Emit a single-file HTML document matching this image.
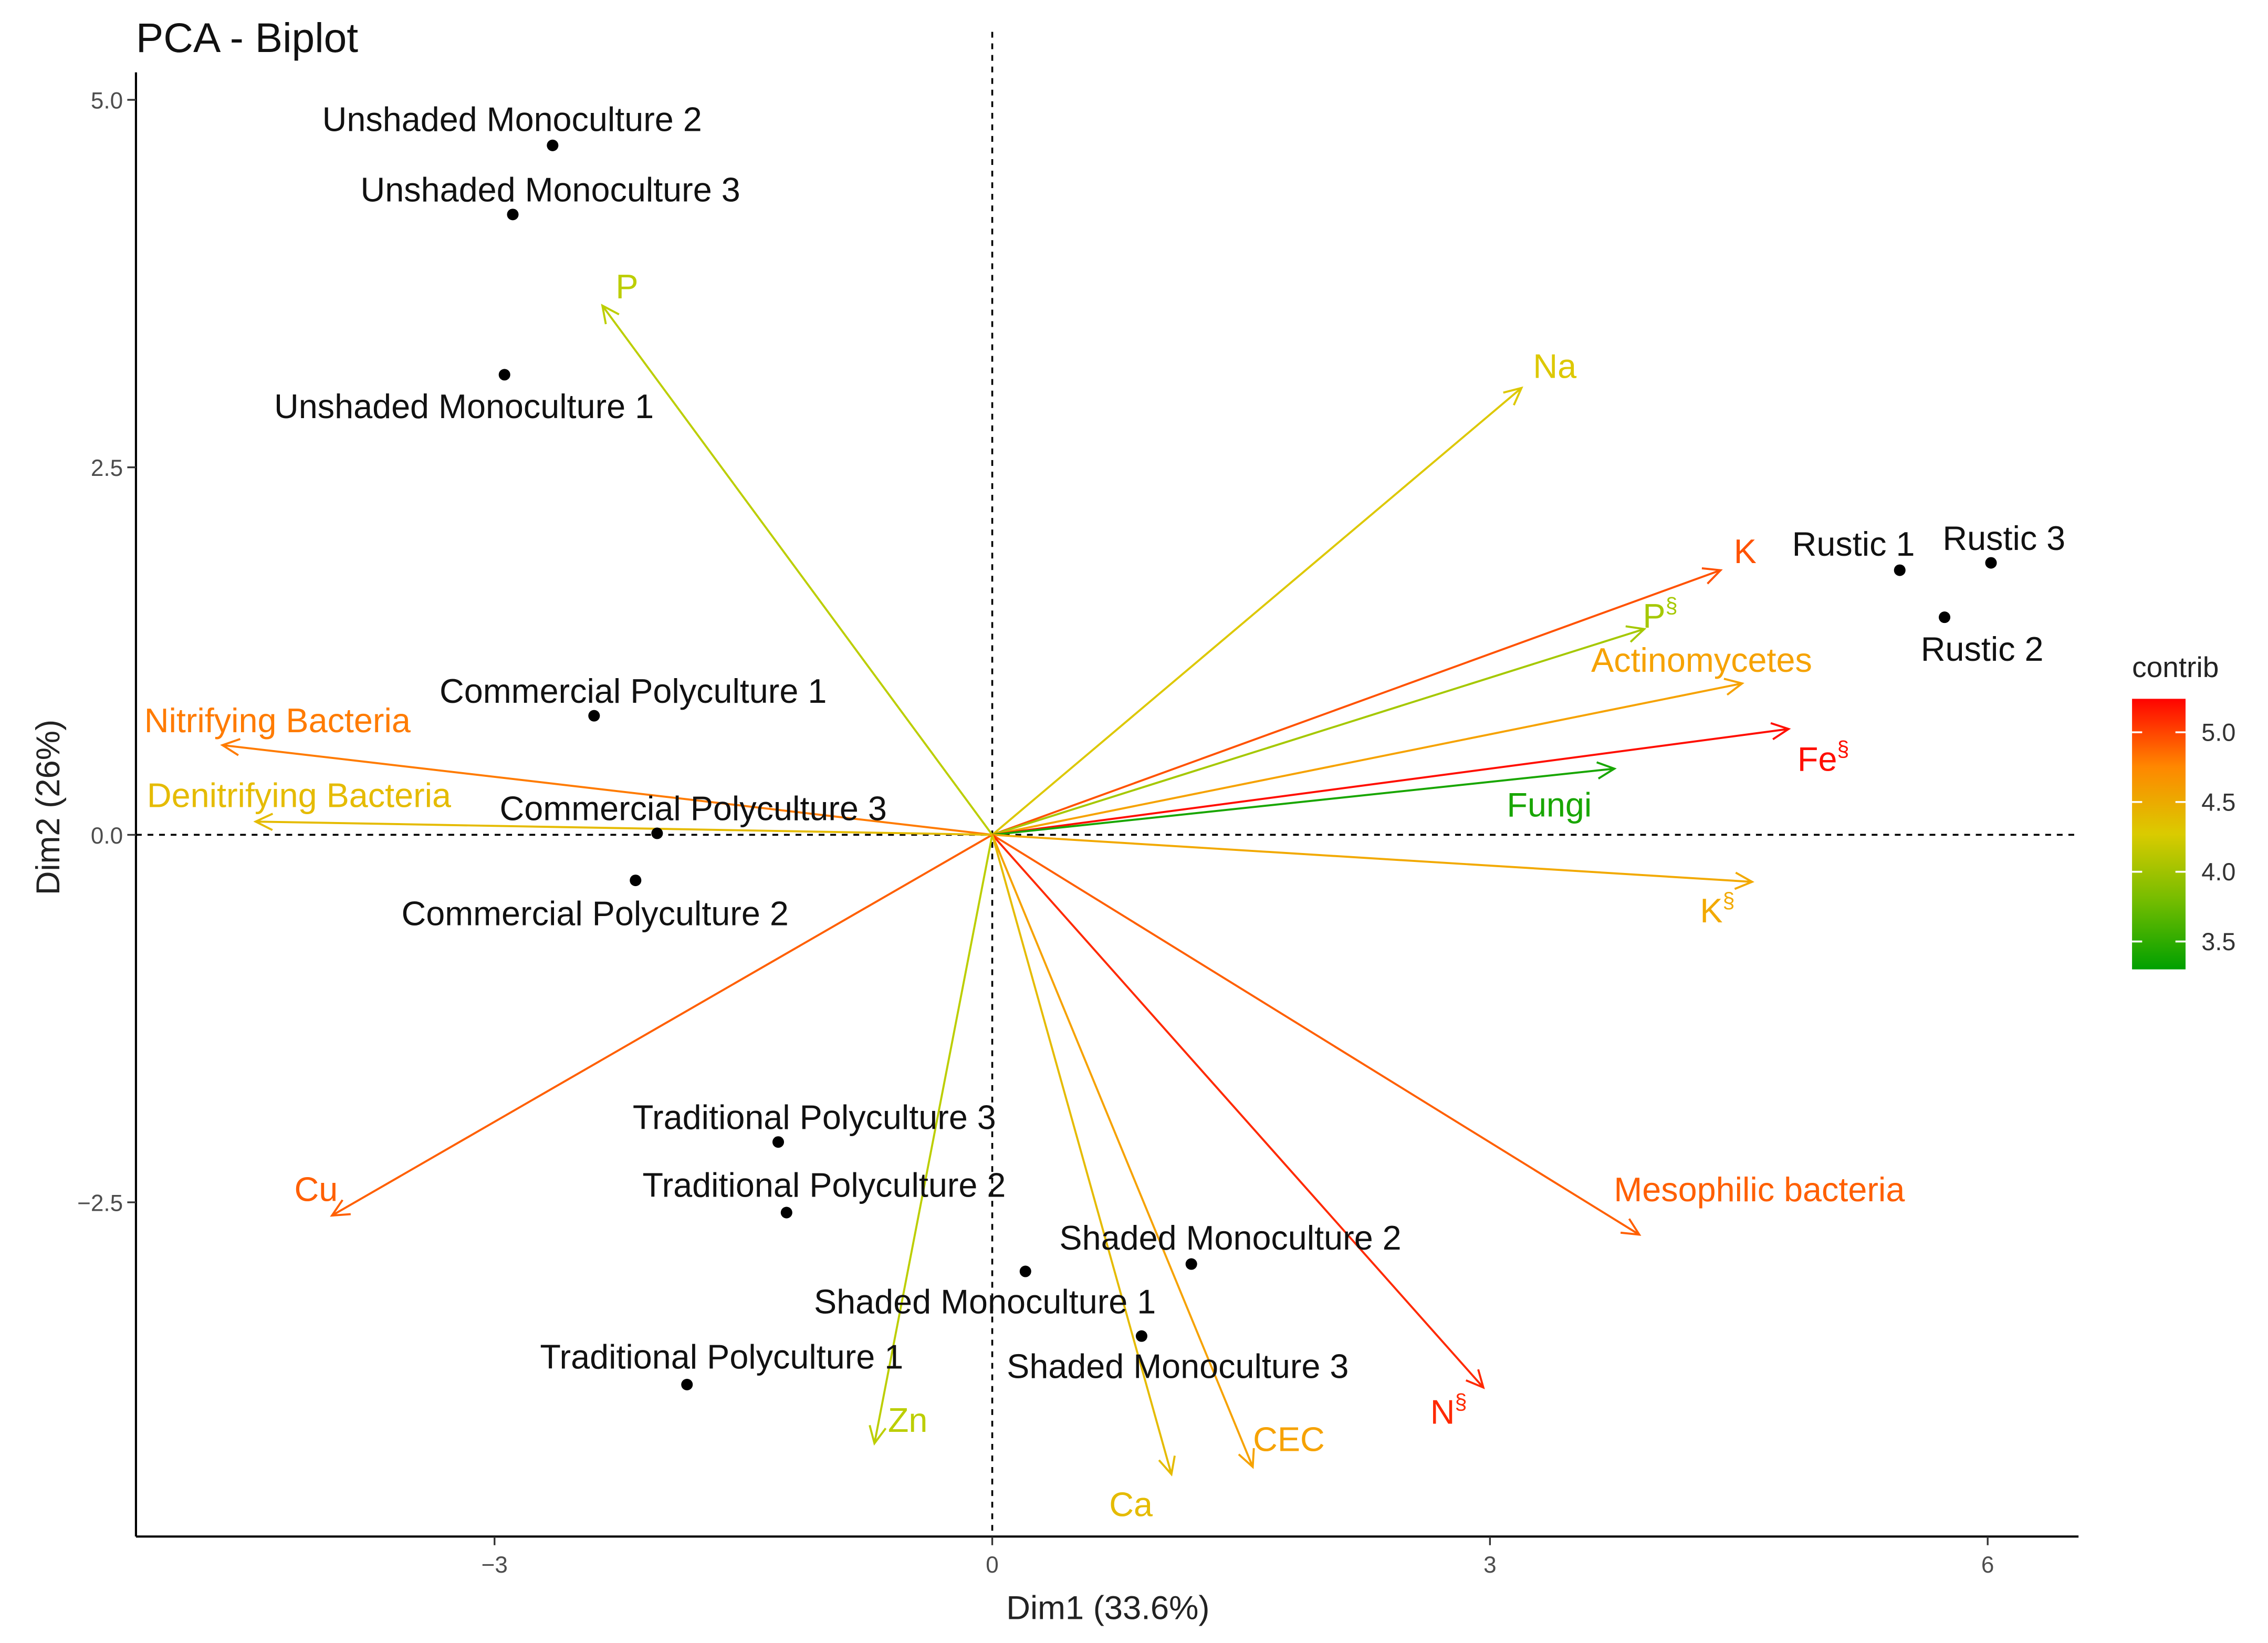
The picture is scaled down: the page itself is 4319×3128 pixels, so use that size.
<!DOCTYPE html>
<html><head><meta charset="utf-8"><style>
html,body{margin:0;padding:0;background:#fff;}
svg{display:block;font-family:"Liberation Sans",Arial,sans-serif;}
</style></head><body>
<svg id="chart" width="4319" height="3128" viewBox="0 0 1568 1135.6" preserveAspectRatio="none" xmlns="http://www.w3.org/2000/svg">
<rect x="0" y="0" width="1568" height="1135.6" fill="#fff"/>
<text x="94" y="36" font-size="28.5" fill="#111">PCA - Biplot</text>
<g id="axes"></g>
<g id="arrows"></g>
<g id="points"></g>
<g id="legend"></g>
</svg>
<script>
const indNames=["Unshaded Monoculture 2","Unshaded Monoculture 3","Unshaded Monoculture 1","Rustic 1","Rustic 3","Rustic 2","Commercial Polyculture 1","Commercial Polyculture 3","Commercial Polyculture 2","Traditional Polyculture 3","Traditional Polyculture 2","Traditional Polyculture 1","Shaded Monoculture 1","Shaded Monoculture 2","Shaded Monoculture 3"];
const indX=[-2.65,-2.89,-2.94,5.47,6.02,5.74,-2.40,-2.02,-2.15,-1.29,-1.24,-1.84,0.20,1.20,0.90];
const indY=[4.69,4.22,3.13,1.80,1.85,1.48,0.81,0.01,-0.31,-2.09,-2.57,-3.74,-2.97,-2.92,-3.41];
const indLabelDX=[-28,26,-28,-32,9,26,27,25,-28,25,26,24,-28,27,25];
const indLabelDY=[-18,-17,22,-18,-17,22,-17,-17,23,-17,-19,-19,21,-18,21];

const varNames=["P","Na","K","P§","Actinomycetes","Fe§","Fungi","K§","Mesophilic bacteria","N§","CEC","Ca","Zn","Cu","Nitrifying Bacteria","Denitrifying Bacteria"];
const varX=[-2.35,3.19,4.39,3.93,4.52,4.80,3.75,4.58,3.90,2.96,1.57,1.08,-0.71,-3.98,-4.64,-4.44];
const varY=[3.60,3.04,1.80,1.40,1.03,0.72,0.45,-0.32,-2.72,-3.76,-4.30,-4.35,-4.14,-2.59,0.61,0.09];
const varContrib=[4.1,4.3,4.95,4.0,4.6,5.2,3.4,4.55,4.9,5.1,4.6,4.4,4.1,4.9,4.8,4.4];
const varLabelDX=[17,23,17,11,-28,24,-45,-24,83,-24,25,-28,23,-11,38,30];
const varLabelDY=[-13,-15,-13,-9,-16,21,25,20,-31,17,-19,21,-16,-18,-17,-18];

const xTicks=[-3,0,3,6];
const yTicks=[-2.5,0.0,2.5,5.0];
const legendTicks=[3.5,4.0,4.5,5.0];

const NS="http://www.w3.org/2000/svg";
const L=94,R=1437,T=40,B=1062;
const sx=v=>686+114.7*v;
const sy=v=>577-101.6*v;
function mk(tag,attrs,parent){const e=document.createElementNS(NS,tag);for(const k in attrs)e.setAttribute(k,attrs[k]);parent.appendChild(e);return e;}
function lerp(a,b,t){return a.map((v,i)=>Math.round(v+(b[i]-v)*t));}
function col(c){
  const stops=[[3.3,[0,160,0]],[4.2,[212,212,0]],[4.7,[255,150,0]],[5.25,[255,0,0]]];
  if(c<=stops[0][0])return "rgb("+stops[0][1]+")";
  for(let i=0;i<stops.length-1;i++){if(c<=stops[i+1][0]){const t=(c-stops[i][0])/(stops[i+1][0]-stops[i][0]);return "rgb("+lerp(stops[i][1],stops[i+1][1],t)+")";}}
  return "rgb(255,0,0)";
}
const ax=document.getElementById('axes');
let z1=mk('line',{x1:L,x2:R,y1:sy(0),y2:sy(0),stroke:'#000','stroke-width':1.3,'stroke-dasharray':'4,4'},ax);


let z2=mk('line',{x1:sx(0),x2:sx(0),y1:22,y2:B,stroke:'#000','stroke-width':1.3,'stroke-dasharray':'4,4'},ax);


let xa=mk('line',{x1:L,x2:R,y1:B,y2:B,stroke:'#000','stroke-width':1.5},ax);


let ya=mk('line',{x1:L,x2:L,y1:50,y2:B,stroke:'#000','stroke-width':1.5},ax);


xTicks.forEach(v=>{
  const tk=mk('line',{x1:sx(v),x2:sx(v),y1:B,y2:B+6,stroke:'#333','stroke-width':1.2},ax);
  
  
  const t=mk('text',{x:sx(v),y:B+25,'text-anchor':'middle','font-size':16,fill:'#4d4d4d'},ax);
  t.textContent=v<0?"\u2212"+Math.abs(v):String(v);
  
  
});
yTicks.forEach(v=>{
  const tk=mk('line',{x1:L-6,x2:L,y1:sy(v),y2:sy(v),stroke:'#333','stroke-width':1.2},ax);
  
  
  const t=mk('text',{x:L-9,y:sy(v)+6,'text-anchor':'end','font-size':16,fill:'#4d4d4d'},ax);
  t.textContent=(v<0?"\u2212":"")+Math.abs(v).toFixed(1);
  
  
});
let xt=mk('text',{x:766,y:1119,'text-anchor':'middle','font-size':23,fill:'#222'},ax);
xt.textContent="Dim1 (33.6%)";


let yt=mk('text',{x:41,y:558,'text-anchor':'middle','font-size':23,fill:'#222',transform:'rotate(-90 41 558)'},ax);
yt.textContent="Dim2 (26%)";



const ag=document.getElementById('arrows');
varNames.forEach((n,i)=>{
  const c=col(varContrib[i]);
  const x0=sx(0),y0=sy(0),x1=sx(varX[i]),y1=sy(varY[i]);
  const g=mk('g',{},ag);
  
  
  mk('line',{x1:x0,y1:y0,x2:x1,y2:y1,stroke:c,'stroke-width':1.4},g);
  const ang=Math.atan2(y1-y0,x1-x0),h=13,sp=0.45;
  mk('polyline',{points:(x1-h*Math.cos(ang-sp))+","+(y1-h*Math.sin(ang-sp))+" "+x1+","+y1+" "+(x1-h*Math.cos(ang+sp))+","+(y1-h*Math.sin(ang+sp)),fill:'none',stroke:c,'stroke-width':1.4},g);
  const t=mk('text',{x:x1+varLabelDX[i],y:y1+varLabelDY[i]+8,'text-anchor':'middle','font-size':23.5,fill:c},g);
  
  
  if(n.endsWith('§')){
    t.appendChild(document.createTextNode(n.slice(0,-1)));
    const s=mk('tspan',{'font-size':15,dy:-10},t);s.textContent='§';
  } else t.textContent=n;
});

const pg=document.getElementById('points');
indNames.forEach((n,i)=>{
  const px=sx(indX[i]),py=sy(indY[i]);
  const c=mk('circle',{cx:px,cy:py,r:4,fill:'#000'},pg);
  
  
  const t=mk('text',{x:px+indLabelDX[i],y:py+indLabelDY[i]+8,'text-anchor':'middle','font-size':23.5,fill:'#111'},pg);
  t.textContent=n;
  
  
});

const lg=document.getElementById('legend');
const defs=mk('defs',{},lg);
const gr=mk('linearGradient',{id:'cg',x1:0,y1:0,x2:0,y2:1},defs);
const lt=5.24,lb=3.30,barT=483,barB=670;
[[0,5.24],[0.25,4.755],[0.5,4.27],[0.75,3.785],[1,3.3]].forEach(s=>mk('stop',{offset:s[0],'stop-color':col(s[1])},gr));
let bar=mk('rect',{x:1474,y:barT,width:37,height:barB-barT,fill:'url(#cg)'},lg);


let lt2=mk('text',{x:1474,y:468,'font-size':20,fill:'#222'},lg);
lt2.textContent="contrib";


const ly=v=>barT+(lt-v)/(lt-lb)*(barB-barT);
legendTicks.forEach(v=>{
  mk('line',{x1:1474,x2:1481,y1:ly(v),y2:ly(v),stroke:'#fff','stroke-width':1.3},lg);
  mk('line',{x1:1504,x2:1511,y1:ly(v),y2:ly(v),stroke:'#fff','stroke-width':1.3},lg);
  const t=mk('text',{x:1522,y:ly(v)+6,'font-size':17,fill:'#333'},lg);
  t.textContent=v.toFixed(1);
  
  
});
</script>
</body></html>
